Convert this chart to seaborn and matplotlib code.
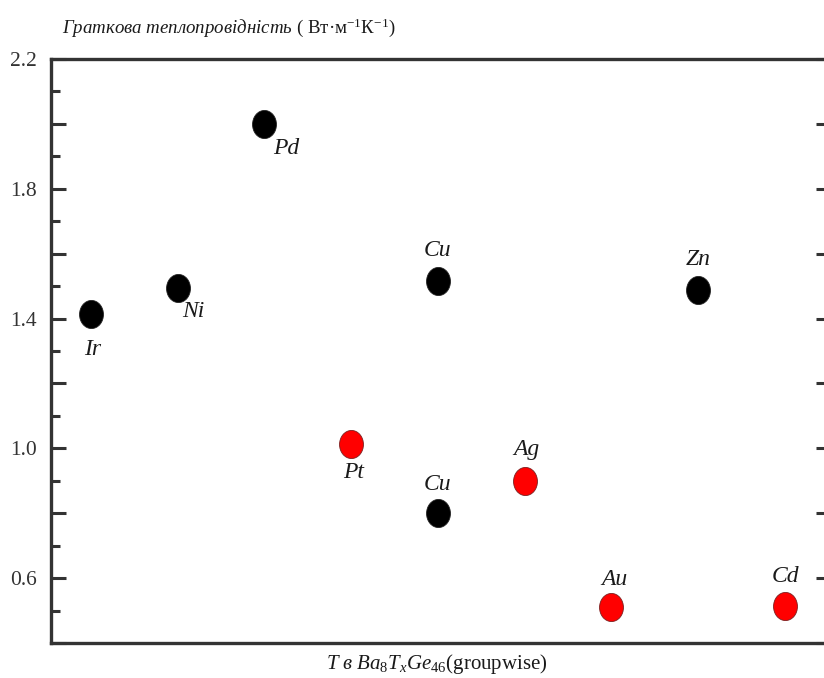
import numpy as np
import pandas as pd
import matplotlib
matplotlib.use("Agg")
import matplotlib.pyplot as plt
from matplotlib.path import Path
from matplotlib.transforms import Affine2D
from matplotlib.ticker import MultipleLocator
import seaborn as sns

# ---- data ----
elements = ["Ir", "Ni", "Pd", "Pt", "Cu", "Cu", "Ag", "Au", "Zn", "Cd"]
slots = [1, 2, 3, 4, 5, 5, 6, 7, 8, 9]
kappa = [1.415, 1.495, 2.00, 1.012, 1.517, 0.80, 0.898, 0.511, 1.489, 0.514]
group = ["black", "black", "black", "red", "black", "black", "red", "red", "black", "red"]
ytick_labels = ["0.6", "1.0", "1.4", "1.8", "2.2"]

# label offsets in points (style)
label_offsets = [(1, -26), (11, -17), (16, -18), (1.5, -20), (0, 22),
                 (0, 21), (1.5, 23), (2, 19.5), (0, 22), (0.7, 21)]

df = pd.DataFrame({"element": elements, "slot": slots, "kappa": kappa, "group": group})

sns.set_theme(style="white")
plt.rcParams["font.family"] = ["Liberation Serif", "DejaVu Serif"]
plt.rcParams["mathtext.fontset"] = "custom"
plt.rcParams["mathtext.rm"] = "Liberation Serif"
plt.rcParams["mathtext.it"] = "Liberation Serif:italic"
plt.rcParams["mathtext.bf"] = "Liberation Serif:bold"

fig = plt.figure(figsize=(8.24, 6.78), dpi=100)
ax = fig.add_axes([51 / 824, 1 - 643 / 678, (831 - 51) / 824, (643 - 59) / 678])

ell = Path.unit_circle().transformed(Affine2D().scale(0.85, 1.0))

sns.scatterplot(data=df[df.group == "black"], x="slot", y="kappa", ax=ax,
                color="black", marker=ell, s=410, edgecolor="#222222",
                linewidth=0.6, legend=False, zorder=3)
sns.scatterplot(data=df[df.group == "red"], x="slot", y="kappa", ax=ax,
                color="#ff0000", marker=ell, s=410, edgecolor="#7a2020",
                linewidth=0.6, legend=False, zorder=3)

for (el, xs, yv), off in zip(zip(elements, slots, kappa), label_offsets):
    ax.annotate(el, (xs, yv), xytext=off, textcoords="offset points",
                ha="center", va="center", fontsize=17, fontstyle="italic",
                color="#1a1a1a")

ax.set_xlim(0.54, 9.53)
ax.set_ylim(0.4, 2.2)

ax.set_xticks([])
ax.yaxis.set_minor_locator(MultipleLocator(0.1))
major_vals = np.round(np.arange(0.4, 2.21, 0.2), 2)
ax.set_yticks(major_vals)
ax.set_yticklabels([lab if lab in ytick_labels else "" for lab in [f"{v:.1f}" for v in major_vals]])
ax.tick_params(axis="y", which="major", direction="in", length=11, width=2.2,
               color="#333333", labelsize=15.5, labelcolor="#333333", pad=10,
               right=True, left=True)
ax.tick_params(axis="y", which="minor", direction="in", length=6.5, width=2.2,
               color="#333333", left=True, right=False)

for sp in ax.spines.values():
    sp.set_linewidth(2.4)
    sp.set_color("#333333")
    sp.set_visible(True)
ax.set_xlabel("")
ax.set_ylabel("")

fig.text(62 / 824, 1 - 28 / 678,
         r"$\mathit{Граткова\ теплопровідність}$ ( Вт·м$^{\mathrm{-1}}$К$^{\mathrm{-1}}$)",
         ha="left", va="center", fontsize=13.6, color="#1a1a1a")
fig.text(437 / 824, 1 - 664 / 678,
         r"$\mathit{T\ в\ Ba}_{\mathrm{8}}\mathit{T}_{x}\mathit{Ge}_{\mathrm{46}}$(groupwise)",
         ha="center", va="center", fontsize=15, color="#1a1a1a")

fig.savefig("out.png", dpi=100)
